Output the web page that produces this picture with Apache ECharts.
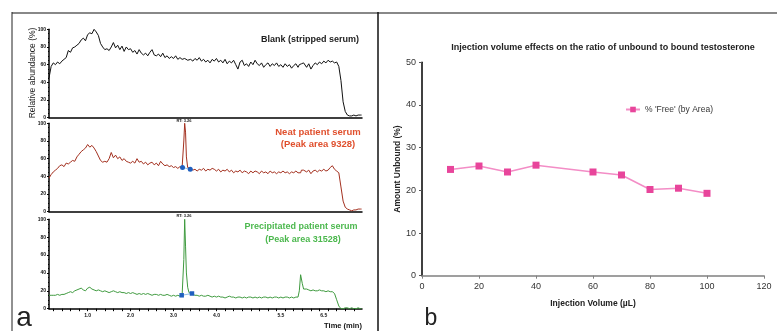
<!DOCTYPE html>
<html><head><meta charset="utf-8">
<script src="https://cdn.jsdelivr.net/npm/echarts@6/dist/echarts.min.js"></script>
<style>html,body{margin:0;padding:0;background:#fff}#c{width:777px;height:331px}</style>
</head><body><div id="c"></div>
<script>
// ---- panel a: chromatograms (time in min, relative abundance %) ----
const TIME = [
  0.10,0.15,0.20,0.25,0.30,0.35,0.40,0.45,0.50,0.55,
  0.60,0.65,0.70,0.75,0.80,0.85,0.90,0.95,1.00,1.05,
  1.10,1.15,1.20,1.25,1.30,1.35,1.40,1.45,1.50,1.55,
  1.60,1.65,1.70,1.75,1.80,1.85,1.90,1.95,2.00,2.05,
  2.10,2.15,2.20,2.25,2.30,2.35,2.40,2.45,2.50,2.55,
  2.60,2.65,2.70,2.75,2.80,2.85,2.90,2.95,3.00,3.05,
  3.10,3.15,3.20,
  3.22,3.24,3.26,3.28,3.30,3.33,3.36,3.40,
  3.45,3.50,3.55,3.60,3.65,3.70,3.75,3.80,3.85,3.90,
  3.95,4.00,4.05,4.10,4.15,4.20,4.25,4.30,4.35,4.40,
  4.45,4.50,4.55,4.60,4.65,4.70,4.75,4.80,4.85,4.90,
  4.95,5.00,5.05,5.10,5.15,5.20,5.25,5.30,5.35,5.40,
  5.45,5.50,5.55,5.60,5.65,5.70,5.75,5.80,5.85,5.90,
  5.93,5.96,5.98,6.00,6.03,6.06,
  6.10,6.15,6.20,6.25,6.30,6.35,6.40,6.45,6.50,6.55,
  6.60,6.65,6.70,6.75,6.80,6.85,6.90,6.95,7.00,7.05,
  7.10,7.15,7.20,7.25,7.30,7.35,7.38
];
const BLANK = [
  45,58,62,60,63,61,64,66,68,76,
  74,79,80,82,84,88,90,87,94,96,
  95,100,97,93,84,80,77,78,76,80,
  85,79,82,77,81,75,80,77,78,74,
  76,72,77,73,71,73,70,74,77,71,
  70,72,69,73,68,70,67,69,67,70,
  66,68,66,
  68,65,67,66,68,65,67,66,
  64,67,65,68,64,66,63,65,62,66,
  64,67,63,65,62,66,61,64,62,65,
  60,55,63,65,59,61,58,63,60,65,
  61,59,62,57,60,62,58,61,59,62,
  58,60,57,61,58,60,56,59,61,57,
  60,58,61,59,62,60,
  57,61,55,59,62,60,63,61,64,62,
  65,63,64,62,63,58,42,18,7,3,
  2,2,3,2,3,3,3
];
const NEAT = [
  38,42,45,47,49,52,53,51,55,54,
  56,58,57,62,65,68,70,72,76,73,
  75,72,68,63,58,56,57,56,60,67,
  61,64,60,62,58,60,57,56,55,57,
  55,60,56,57,54,56,53,55,56,53,
  55,52,57,54,52,53,51,52,50,51,
  49,51,50,
  52,80,100,90,62,50,48,49,
  47,48,46,48,47,49,46,48,47,49,
  48,46,48,45,47,46,48,45,47,44,
  46,45,47,44,46,45,43,46,44,46,
  45,43,46,44,45,43,46,44,45,43,
  45,44,46,44,45,43,45,44,46,44,
  46,44,47,45,47,46,
  45,47,43,46,47,45,47,46,48,46,
  47,50,52,48,46,44,28,12,5,3,
  2,1,2,2,3,3,3
];
const PRECIP = [
  15,15,15,15,16,15,16,16,17,18,
  19,18,20,21,22,23,21,20,23,24,
  22,21,20,21,20,19,20,19,18,19,
  20,19,18,19,18,18,17,18,17,18,
  17,16,17,16,17,16,17,16,15,16,
  16,15,16,15,15,16,15,14,15,14,
  15,14,15,
  16,55,100,70,40,24,18,17,
  16,15,15,14,15,14,14,15,14,13,
  14,13,14,13,13,12,13,14,13,13,
  12,13,13,12,13,12,13,13,12,13,
  12,13,12,13,13,12,13,12,13,13,
  12,13,12,13,13,12,13,12,13,13,
  20,38,40,28,22,24,
  22,21,20,21,20,20,21,20,20,19,
  20,19,19,17,10,3,0,0,1,1,
  0,1,0,0,1,0,0
];
const NEAT_INT_T = [3.21, 3.39];
const NEAT_INT_V = [50, 48];
const PRECIP_INT_T = [3.19, 3.43];
const PRECIP_INT_V = [15, 17];
const TIME_LABELS = [1.0, 2.0, 3.0, 4.0, 5.5, 6.5];
const TIME_TICKS = [0.2,0.4,0.6,0.8,1.0,1.2,1.4,1.6,1.8,2.0,2.2,2.4,2.6,2.8,3.0,3.2,3.4,3.6,3.8,4.0,4.2,4.4,4.6,4.8,5.0,5.2,5.4,5.6,5.8,6.0,6.2,6.4,6.6,6.8,7.0,7.2];

// ---- panel b: injection volume ----
const VOLUME = [10, 20, 30, 40, 60, 70, 80, 90, 100];
const PCT_FREE = [24.9, 25.7, 24.3, 25.9, 24.3, 23.6, 20.2, 20.5, 19.3];

const pairs = (xs, ys) => xs.map((x, i) => [x, ys[i]]);
const SANS = "'Liberation Sans', Arial, sans-serif";

const chromGrids = [
  {left: 49, top: 29.3, width: 313, height: 88.4},
  {left: 49, top: 123.3, width: 313, height: 88.4},
  {left: 49, top: 219.3, width: 313, height: 89.4}
];
const traceColors = ['#111111', '#a3301f', '#3f9a3f'];

const xAxes = chromGrids.map((g, i) => ({
  gridIndex: i, type: 'value', min: 0.1, max: 7.39,
  axisLine: {show: true, onZero: false, lineStyle: {color: '#000', width: 1.5}},
  axisTick: i === 2 ? {show: true, customValues: TIME_TICKS, length: 2.5, lineStyle: {color: '#000', width: 1}} : {show: false},
  axisLabel: i === 2 ? {show: true, customValues: TIME_LABELS, formatter: v => v.toFixed(1), fontSize: 5, fontWeight: 'bold', color: '#111', margin: 4, fontFamily: SANS} : {show: false},
  splitLine: {show: false}
}));
const yAxes = chromGrids.map((g, i) => ({
  gridIndex: i, type: 'value', min: 0, max: 100, interval: 20,
  axisLine: {show: true, lineStyle: {color: '#000', width: 1.5}},
  axisTick: {show: true, length: 2, lineStyle: {color: '#000'}},
  minorTick: {show: true, splitNumber: 4, length: 1, lineStyle: {color: '#000'}},
  axisLabel: {fontSize: 5, fontWeight: 'bold', color: '#111', margin: 3, fontFamily: SANS},
  splitLine: {show: false}
}));

xAxes.push({
  gridIndex: 3, type: 'value', min: 0, max: 120, interval: 20,
  axisLine: {show: true, onZero: false, lineStyle: {color: '#808080', width: 1.5}},
  axisTick: {show: true, length: 3, lineStyle: {color: '#808080'}},
  axisLabel: {fontSize: 9, color: '#333', margin: 6, fontFamily: SANS},
  splitLine: {show: false},
  name: 'Injection Volume (µL)', nameLocation: 'middle', nameGap: 23,
  nameTextStyle: {fontSize: 8.5, fontWeight: 'bold', color: '#222', fontFamily: SANS}
});
yAxes.push({
  gridIndex: 3, type: 'value', min: 0, max: 50, interval: 10,
  axisLine: {show: true, lineStyle: {color: '#000', width: 1.5}},
  axisTick: {show: true, length: 3, lineStyle: {color: '#555'}},
  axisLabel: {fontSize: 9, color: '#333', margin: 6, fontFamily: SANS},
  splitLine: {show: false},
  name: 'Amount Unbound (%)', nameLocation: 'middle', nameGap: 20,
  nameTextStyle: {fontSize: 8.5, fontWeight: 'bold', color: '#222', fontFamily: SANS}
});

const series = [
  {type: 'line', xAxisIndex: 0, yAxisIndex: 0, data: pairs(TIME, BLANK), showSymbol: false, lineStyle: {color: traceColors[0], width: 1}, itemStyle: {color: traceColors[0]}},
  {type: 'line', xAxisIndex: 1, yAxisIndex: 1, data: pairs(TIME, NEAT), showSymbol: false, lineStyle: {color: traceColors[1], width: 1}, itemStyle: {color: traceColors[1]}},
  {type: 'line', xAxisIndex: 2, yAxisIndex: 2, data: pairs(TIME, PRECIP), showSymbol: false, lineStyle: {color: traceColors[2], width: 1}, itemStyle: {color: traceColors[2]}},
  {type: 'line', xAxisIndex: 1, yAxisIndex: 1, data: pairs(NEAT_INT_T, NEAT_INT_V), symbol: 'circle', symbolSize: 5, lineStyle: {color: '#8fbfe8', width: 1}, itemStyle: {color: '#1f5fbf'}},
  {type: 'line', xAxisIndex: 2, yAxisIndex: 2, data: pairs(PRECIP_INT_T, PRECIP_INT_V), symbol: 'rect', symbolSize: 4.5, lineStyle: {color: '#8fbfe8', width: 1}, itemStyle: {color: '#1f5fbf'}},
  {type: 'line', name: "% 'Free' (by Area)", xAxisIndex: 3, yAxisIndex: 3, data: pairs(VOLUME, PCT_FREE),
   symbol: 'rect', symbolSize: 7, showSymbol: true, lineStyle: {color: '#f38dc6', width: 1.5}, itemStyle: {color: '#e8459b'}}
];

const txt = (x, y, text, size, color, opts) => Object.assign({
  type: 'text', x: x, y: y, silent: true,
  style: Object.assign({text: text, fontSize: size, fill: color, fontFamily: SANS, fontWeight: 'bold', align: 'center', verticalAlign: 'middle'}, opts || {})
});

const graphic = [
  {type: 'line', shape: {x1: 12, y1: 13, x2: 777, y2: 13}, style: {stroke: '#888', lineWidth: 2}, silent: true},
  {type: 'line', shape: {x1: 12, y1: 12, x2: 12, y2: 331}, style: {stroke: '#222', lineWidth: 1}, silent: true},
  {type: 'line', shape: {x1: 378, y1: 12, x2: 378, y2: 331}, style: {stroke: '#111', lineWidth: 1.5}, silent: true},
  txt(310, 40, 'Blank (stripped serum)', 9, '#222'),
  txt(318, 132, 'Neat patient serum', 9.5, '#e0502e'),
  txt(318, 144, '(Peak area 9328)', 9.5, '#e0502e'),
  txt(301, 227, 'Precipitated patient serum', 9, '#4cb84e'),
  txt(303, 240, '(Peak area 31528)', 9, '#4cb84e'),
  txt(184, 121, 'RT: 3.26', 4, '#222'),
  txt(184, 216, 'RT: 3.26', 4, '#222'),
  txt(343, 326, 'Time (min)', 7.5, '#111'),
  {type: 'text', x: 33, y: 73, rotation: Math.PI / 2, silent: true,
   style: {text: 'Relative abundance (%)', fontSize: 8.5, fill: '#222', fontFamily: SANS, align: 'center', verticalAlign: 'middle'}},
  txt(24, 318, 'a', 28, '#222', {fontWeight: 'normal'}),
  txt(431, 319, 'b', 23, '#222', {fontWeight: 'normal'})
];

const chart = echarts.init(document.getElementById('c'), null, {renderer: 'canvas'});
chart.setOption({
  animation: false,
  backgroundColor: '#fff',
  title: {text: 'Injection volume effects on the ratio of unbound to bound testosterone', left: 598, top: 38, textAlign: 'center',
          textStyle: {fontSize: 9, fontWeight: 'bold', color: '#222', fontFamily: SANS}},
  legend: {data: ["% 'Free' (by Area)"], left: 620, top: 100, itemWidth: 14, itemHeight: 7, itemGap: 4,
           textStyle: {fontSize: 8.5, color: '#333', fontFamily: SANS}},
  grid: chromGrids.concat([{left: 422, top: 62.3, width: 342, height: 213.4}]),
  xAxis: xAxes,
  yAxis: yAxes,
  series: series,
  graphic: graphic
});
</script>
</body></html>
